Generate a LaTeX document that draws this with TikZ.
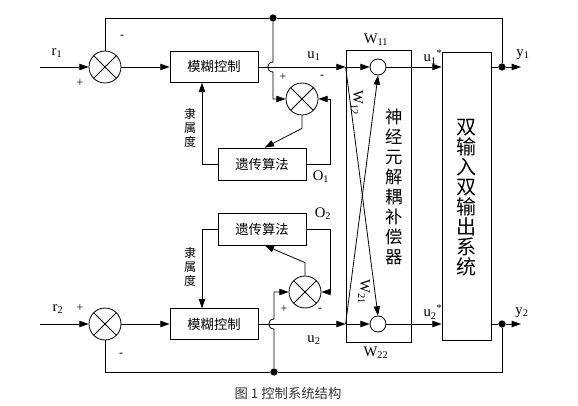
\documentclass[tikz,border=0pt]{standalone}
\usepackage{fontspec}
\setmainfont{Liberation Serif}
\newfontfamily\cjk{Noto Sans CJK SC}
\usetikzlibrary{arrows.meta, positioning}

\begin{document}
\begin{tikzpicture}[x=0.75pt, y=-0.75pt, line width=0.6pt,
    >={Triangle[length=7pt,width=4.8pt]},
    blk/.style={draw, minimum width=66pt, minimum height=23pt, inner sep=0pt, font=\cjk\fontsize{10}{12}\selectfont},
    sumc/.style={draw, circle, minimum size=24pt, inner sep=0pt, path picture={
        \draw (path picture bounding box.north west) -- (path picture bounding box.south east)
              (path picture bounding box.south west) -- (path picture bounding box.north east);}},
    nrn/.style={draw, circle, minimum size=12pt, inner sep=0pt},
    jn/.style={circle, fill, minimum size=5.5pt, inner sep=0pt},
    lbl/.style={font=\fontsize{11}{12}\selectfont, inner sep=1pt},
    sgn/.style={font=\fontsize{9}{10}\selectfont, inner sep=0pt},
    vt/.style={align=center, inner sep=0pt, font=\cjk\fontsize{9}{10.5}\selectfont}
  ]
    \useasboundingbox (0,0) rectangle (578,406);

    % blocks
    \node[sumc] (s1) at (105,67) {};
    \node[sumc] (s2) at (105,324) {};
    \node[blk] (f1) at (214,67) {模糊控制};
    \node[blk] (f2) at (214,324) {模糊控制};
    \node[blk, minimum height=24pt] (g1) at (262,164) {遗传算法};
    \node[blk, minimum height=24pt] (g2) at (262,229) {遗传算法};
    \node[sumc] (e1) at (302,99) {};
    \node[sumc] (e2) at (305,292) {};
    \node[draw, minimum width=48.75pt, minimum height=219pt] (dec) at (378.5,196) {};
    \node[draw, minimum width=36.75pt, minimum height=216pt] (sys) at (466.5,196) {};
    \node[nrn] (n1) at (378,67) {};
    \node[nrn] (n2) at (378,324) {};
    \node[jn] (d1) at (502,67) {};
    \node[jn] (d2) at (502,324) {};
    \node[jn] (t1) at (273,18) {};
    \node[jn] (t2) at (274,372) {};
    \coordinate (r1in) at (40,67);
    \coordinate (r2in) at (40,324);
    \coordinate (y1out) at (521,67);
    \coordinate (y2out) at (521,324);

    % channel 1
    \draw[->] (r1in) -- (s1);
    \draw[->] (s1) -- (f1);
    \draw[->] (f1) -- (f1 -| dec.west);
    \draw[->] (f1 -| dec.west) -- (n1);
    \draw[->] (f1 -| dec.west) -- (n2.north);
    \draw[->] (n1) -- (n1 -| sys.west);
    \draw (sys.east |- d1) -- (d1);
    \draw[->] (d1) -- (y1out);
    \draw (d1) |- (t1) -| (s1.north);
    \draw[->] (t1) -- ++(0,44) .. controls +(-7,0) and +(-7,0) .. ++(0,10) |- (e1);
    \draw[->] (g1.east) -- ++(24,0) |- (e1);
    \draw[->] (e1.south) -- ++(0,13) -- ([xshift=2pt]g1.north);
    \draw[->] (g1.west) -| ([xshift=-9pt]f1.south);

    % channel 2
    \draw[->] (r2in) -- (s2);
    \draw[->] (s2) -- (f2);
    \draw[->] (f2) -- (f2 -| dec.west);
    \draw[->] (f2 -| dec.west) -- (n2);
    \draw[->] (f2 -| dec.west) -- (n1.south);
    \draw[->] (n2) -- (n2 -| sys.west);
    \draw (sys.east |- d2) -- (d2);
    \draw[->] (d2) -- (y2out);
    \draw (d2) |- (t2) -| (s2.south);
    \draw[->] (t2) -- ++(0,-43) .. controls +(-7,0) and +(-7,0) .. ++(0,-10) |- (e2);
    \draw[->] (g2.east) -- ++(24,0) |- (e2);
    \draw[->] (e2.north) -- ++(0,-13) -- ([xshift=2pt]g2.south);
    \draw[->] (g2.west) -| ([xshift=-9pt]f2.north);

    % labels
    \node[lbl] (lr1) at (57,53) {r\textsubscript{1}};
    \node[lbl] (lr2) at (58,309) {r\textsubscript{2}};
    \node[sgn] at (80,83) {+};
    \node[sgn] at (122,37) {-};
    \node[sgn] at (80,308) {+};
    \node[sgn] at (121,355) {-};
    \node[sgn] at (283,77) {+};
    \node[sgn] at (322,77) {-};
    \node[sgn] at (284,309) {+};
    \node[sgn] at (320,310) {-};
    \node[lbl] (lu1) at (314,56) {u\textsubscript{1}};
    \node[lbl] (lu2) at (314,340) {u\textsubscript{2}};
    \node[lbl] (lo1) at (321,177) {O\textsubscript{1}};
    \node[lbl] (lo2) at (323,214) {O\textsubscript{2}};
    \node[lbl] (lw11) at (376,40) {W\textsubscript{11}};
    \node[lbl] (lw22) at (376,353) {W\textsubscript{22}};
    \node[lbl, rotate=-90] (lw12) at (357,103) {W\textsubscript{12}};
    \node[lbl, rotate=-90] (lw21) at (364,292) {W\textsubscript{21}};
    \node[lbl] (lu1s) at (433,57) {u\textsubscript{1}\textsuperscript{*}};
    \node[lbl] (lu2s) at (433,312) {u\textsubscript{2}\textsuperscript{*}};
    \node[lbl] (ly1) at (523,55) {y\textsubscript{1}};
    \node[lbl] (ly2) at (522,313) {y\textsubscript{2}};
    \node[vt] (ms1) at (190,128) {隶\\属\\度};
    \node[vt] (ms2) at (190,267) {隶\\属\\度};
    \node[vt, font=\cjk\fontsize{13}{15}\selectfont] (dectxt) at (394,187) {神\\经\\元\\解\\耦\\补\\偿\\器};
    \node[vt, font=\cjk\fontsize{15}{15}\selectfont] (systxt) at (466.5,198) {双\\输\\入\\双\\输\\出\\系\\统};
    \node[font=\cjk\fontsize{10}{12}\selectfont, text=black!80] (cap) at (288,393) {图 1 控制系统结构};
\end{tikzpicture}
\end{document}
